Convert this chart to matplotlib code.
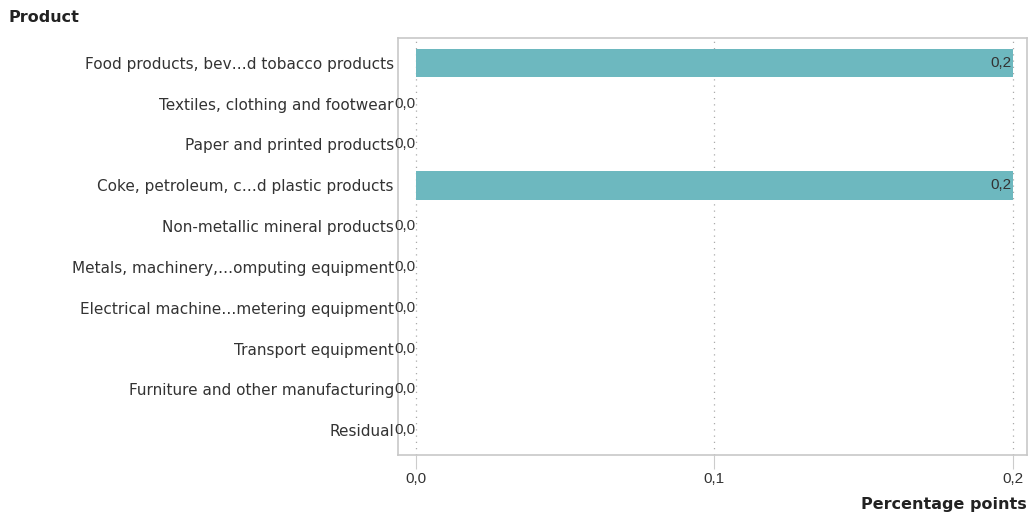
import numpy as np
import matplotlib.pyplot as plt

plt.rcParams['font.family'] = ['DejaVu Sans']

products = ["Food products, bev\u2026d tobacco products",
            "Textiles, clothing and footwear",
            "Paper and printed products",
            "Coke, petroleum, c\u2026d plastic products",
            "Non-metallic mineral products",
            "Metals, machinery,\u2026omputing equipment",
            "Electrical machine\u2026metering equipment",
            "Transport equipment",
            "Furniture and other manufacturing",
            "Residual"]
values = [0.2, 0.0, 0.0, 0.2, 0.0, 0.0, 0.0, 0.0, 0.0, 0.0]
xticks = [0.0, 0.1, 0.2]

num_font = ['Liberation Sans', 'DejaVu Sans']
txt_col = '#333333'

fig = plt.figure(figsize=(10.31, 5.19), dpi=100)
ax = fig.add_axes([0.386, 0.123, 0.610, 0.804])

y = np.arange(len(products))
ax.barh(y, values, height=0.7, color='#6db8bf', zorder=2)

# value labels, right aligned at the end of each bar
for yi, v in zip(y, values):
    ax.text(v - 0.0003, yi, f"{v:.1f}".replace('.', ','), ha='right', va='center',
            fontsize=11, family=num_font, color=txt_col, zorder=3, clip_on=False)

ax.set_xlim(-0.00603, 0.2047)
ax.set_ylim(len(products) - 0.39, -0.61)
ax.set_yticks(y)
ax.set_yticklabels(products, fontsize=11, color=txt_col)
ax.tick_params(axis='y', length=0, pad=3)
ax.set_xticks(xticks)
ax.set_xticklabels([f"{t:.1f}".replace('.', ',') for t in xticks], fontsize=11,
                   family=num_font, color=txt_col)
ax.tick_params(axis='x', length=10, color='#cccccc', pad=2)

ax.grid(axis='x', linestyle=(0, (1, 4)), color='#aaaaaa', linewidth=0.9, zorder=1)
for s in ax.spines.values():
    s.set_color('#c8c8c8')
    s.set_linewidth(1.2)

fig.text(8 / 1031, 1 - 18 / 519, "Product", fontsize=11.5, fontweight='bold', color='#222222',
         ha='left', va='center')
fig.text(1027 / 1031, 1 - 505 / 519, "Percentage points", fontsize=11.5, fontweight='bold',
         color='#222222', ha='right', va='center')

fig.savefig('out.png', dpi=100)
